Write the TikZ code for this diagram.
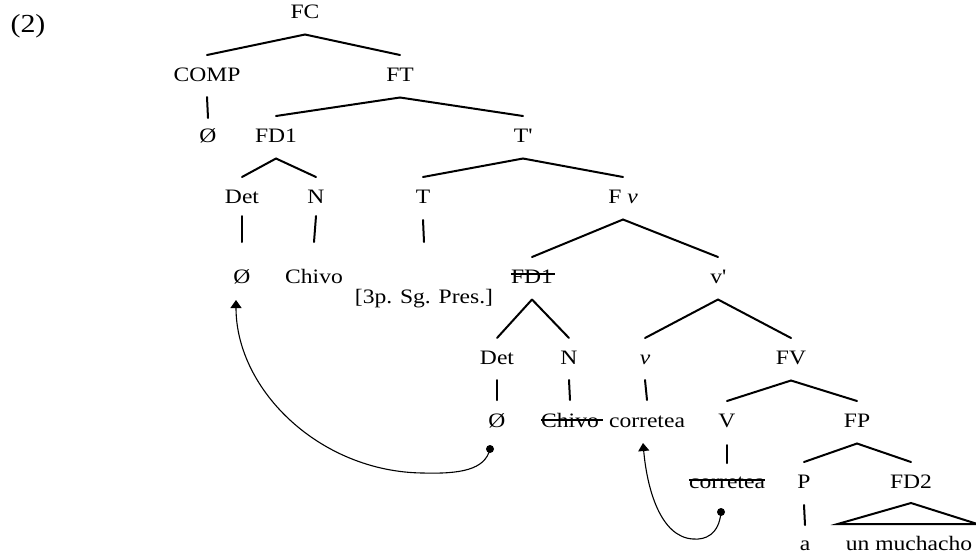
\documentclass[tikz,border=0pt]{standalone}
\usepackage{fontspec}
\setmainfont{Liberation Serif}[FakeStretch=1.15]
\usetikzlibrary{calc,arrows.meta}

\begin{document}
\begin{tikzpicture}[x=1pt,y=-1pt,
  lbl/.style={inner sep=0pt,anchor=base,font=\fontsize{20.5}{24}\selectfont},
  branch/.style={line width=2pt,line cap=round},
  strike/.style={line width=1.4pt},
  move/.style={line width=1.1pt,-{Triangle[width=11pt,length=8pt]}},
]
\useasboundingbox (0,0) rectangle (976,555);

% example number
\node[inner sep=0pt,anchor=base,font=\fontsize{26}{30}\selectfont] (exnum) at (28,32) {(2)};

% labels of the tree
\node[lbl] (FC)     at (305,18)  {FC};
\node[lbl] (COMP)   at (207,81)  {COMP};
\node[lbl] (FT)     at (400,81)  {FT};
\node[lbl] (zeroC)  at (208,142) {Ø};
\node[lbl] (FDa)    at (276,142) {FD1};
\node[lbl] (Tbar)   at (523,142) {T\textquotesingle};
\node[lbl] (DetA)   at (242,203) {Det};
\node[lbl] (NA)     at (316,203) {N};
\node[lbl] (T)      at (423,203) {T};
\node[lbl] (Fv)     at (623,203) {F \textit{v}};
\node[lbl] (zeroA)  at (242,283) {Ø};
\node[lbl] (chivoA) at (314,283) {Chivo};
\node[lbl] (tense)  at (424,303) {[3p. Sg. Pres.]};
\node[lbl] (FDb)    at (532,283) {FD1};
\node[lbl] (vbar)   at (718,283) {v\textquotesingle};
\node[lbl] (DetB)   at (497,364) {Det};
\node[lbl] (NB)     at (569,364) {N};
\node[lbl] (vsmall) at (645,364) {\textit{v}};
\node[lbl] (FV)     at (791,364) {FV};
\node[lbl] (zeroB)  at (497,427) {Ø};
\node[lbl] (chivoB) at (570,427) {Chivo};
\node[lbl] (vhead)  at (647,427) {corretea};
\node[lbl] (V)      at (727,427) {V};
\node[lbl] (FP)     at (857,427) {FP};
\node[lbl] (vtrace) at (727,488) {corretea};
\node[lbl] (P)      at (804,488) {P};
\node[lbl] (FDtwo)  at (911,488) {FD2};
\node[lbl] (aP)     at (805,550) {a};
\node[lbl] (much)   at (909,550) {un muchacho};

% branching lines
\foreach \p/\c in {FC/COMP, FC/FT, FT/FDa, FT/Tbar, FDa/DetA, FDa/NA,
                   Tbar/T, Tbar/Fv, Fv/FDb, Fv/vbar, FDb/DetB, FDb/NB,
                   vbar/vsmall, vbar/FV, FV/V, FV/FP, FP/P, FP/FDtwo}
  \draw[branch] ([yshift=-16.5pt]\p.base) -- ([yshift=26pt]\c.base);

% unary lines
\draw[branch] ([yshift=-16pt]COMP.base)   -- ([yshift=24pt]zeroC.base);
\draw[branch] ([yshift=-13pt]DetA.base)   -- ([yshift=41pt]zeroA.base);
\draw[branch] ([yshift=-13pt]NA.base)     -- ([yshift=41pt]chivoA.base);
\draw[branch] ([yshift=-17pt]T.base)      -- ([yshift=61pt]tense.base);
\draw[branch] ([yshift=-16pt]DetB.base)   -- ([yshift=27pt]zeroB.base);
\draw[branch] ([yshift=-16pt]NB.base)     -- ([yshift=27pt]chivoB.base);
\draw[branch] ([yshift=-16pt]vsmall.base) -- ([yshift=27pt]vhead.base);
\draw[branch] ([yshift=-18pt]V.base)      -- ([yshift=25pt]vtrace.base);
\draw[branch] ([yshift=-17pt]P.base)      -- ([yshift=25pt]aP.base);

% triangle over the unanalysed phrase
\draw[branch,line join=miter] ([yshift=-15pt]FDtwo.base)
  -- ($(much.base west)+(-8,-26)$) -- ($(much.base east)+(5,-26)$) -- cycle;

% deleted copies
\draw[strike] ($(FDb.base west)+(0,-9)$)    -- ($(FDb.base east)+(2,-9)$);
\draw[strike] ($(chivoB.base west)+(0,-7)$) -- ($(chivoB.base east)+(4,-7)$);
\draw[strike] ($(vtrace.base west)+(0,-8)$) -- ($(vtrace.base east)+(0,-8)$);

% movement arrows
\coordinate (m1s) at ($(zeroB.base)+(-7,22)$);
\coordinate (m1e) at ($(zeroA.base)+(-6,17)$);
\coordinate (m2s) at ($(vtrace.base)+(-6,24)$);
\coordinate (m2e) at ($(vhead.base)+(-4,16)$);

\fill (m1s) circle (4pt);
\draw[move] (m1s) .. controls +(-5,21) and +(37,1) .. ++(-67,24)
                  .. controls +(-103,-1) and +(0,90) .. (m1e);

\fill (m2s) circle (4pt);
\draw[move] (m2s) .. controls +(-2,23) and +(12,1) .. ++(-28,27)
                  .. controls +(-33,-2) and +(4,45) .. (m2e);
\end{tikzpicture}
\end{document}
